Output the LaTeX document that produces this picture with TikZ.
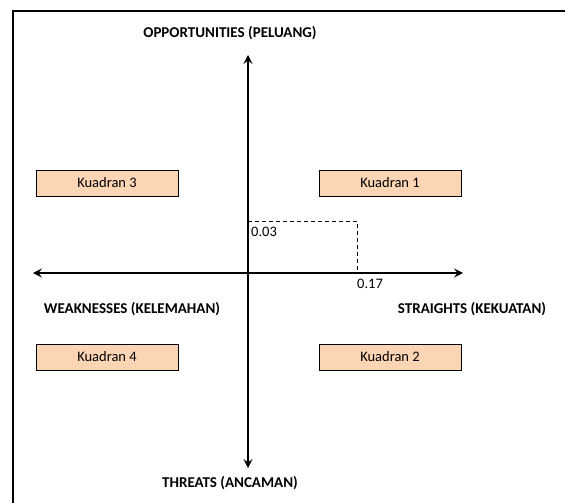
\documentclass[tikz,border=0pt]{standalone}
\usepackage{fontspec}
\setmainfont{Carlito}
\usetikzlibrary{arrows.meta}
\definecolor{peach}{HTML}{FCD5B4}
\begin{document}
\begin{tikzpicture}[x=1pt,y=-1pt,
  quad/.style={draw=black,line width=1pt,fill=peach,minimum width=142pt,minimum height=26pt,inner sep=0pt,font=\fontsize{14.5}{16}\selectfont},
  axislbl/.style={font=\bfseries\fontsize{15}{17}\selectfont,inner sep=0pt},
  vallbl/.style={font=\fontsize{14.5}{16}\selectfont,inner sep=0pt,anchor=west},
  axis/.style={line width=1.1pt,{Stealth[length=9pt,width=9pt,inset=3.5pt]}-{Stealth[length=9pt,width=9pt,inset=3.5pt]}}
]
\useasboundingbox (0,0) rectangle (565,503);
\fill[white] (0,0) rectangle (565,503);
\draw[line width=2.5pt] (565,11) -- (13,11) -- (13,503);

\coordinate (top) at (248,55);
\coordinate (bot) at (248,468);
\coordinate (lft) at (33,273);
\coordinate (rgt) at (463,273);
\coordinate (dy) at (248,221);
\coordinate (dc) at (357,221);
\coordinate (dx) at (357,273);

\draw[axis] (bot) -- (top);
\draw[axis] (lft) -- (rgt);
\draw[dashed,line width=1pt,dash pattern=on 4pt off 3pt] (dy) -- (dc) -- (dx);

\node[vallbl] (v003) at (251,232) {0.03};
\node[vallbl] (v017) at (357,284) {0.17};

\node[quad] (k3) at (107,183) {Kuadran 3};
\node[quad] (k1) at (390,183) {Kuadran 1};
\node[quad] (k4) at (107,357) {Kuadran 4};
\node[quad] (k2) at (390,357) {Kuadran 2};

\node[axislbl] (opp) at (230,33) {OPPORTUNITIES (PELUANG)};
\node[axislbl] (thr) at (230,483) {THREATS (ANCAMAN)};
\node[axislbl] (wk) at (132,309) {WEAKNESSES (KELEMAHAN)};
\node[axislbl] (st) at (472,309) {STRAIGHTS (KEKUATAN)};
\end{tikzpicture}
\end{document}
